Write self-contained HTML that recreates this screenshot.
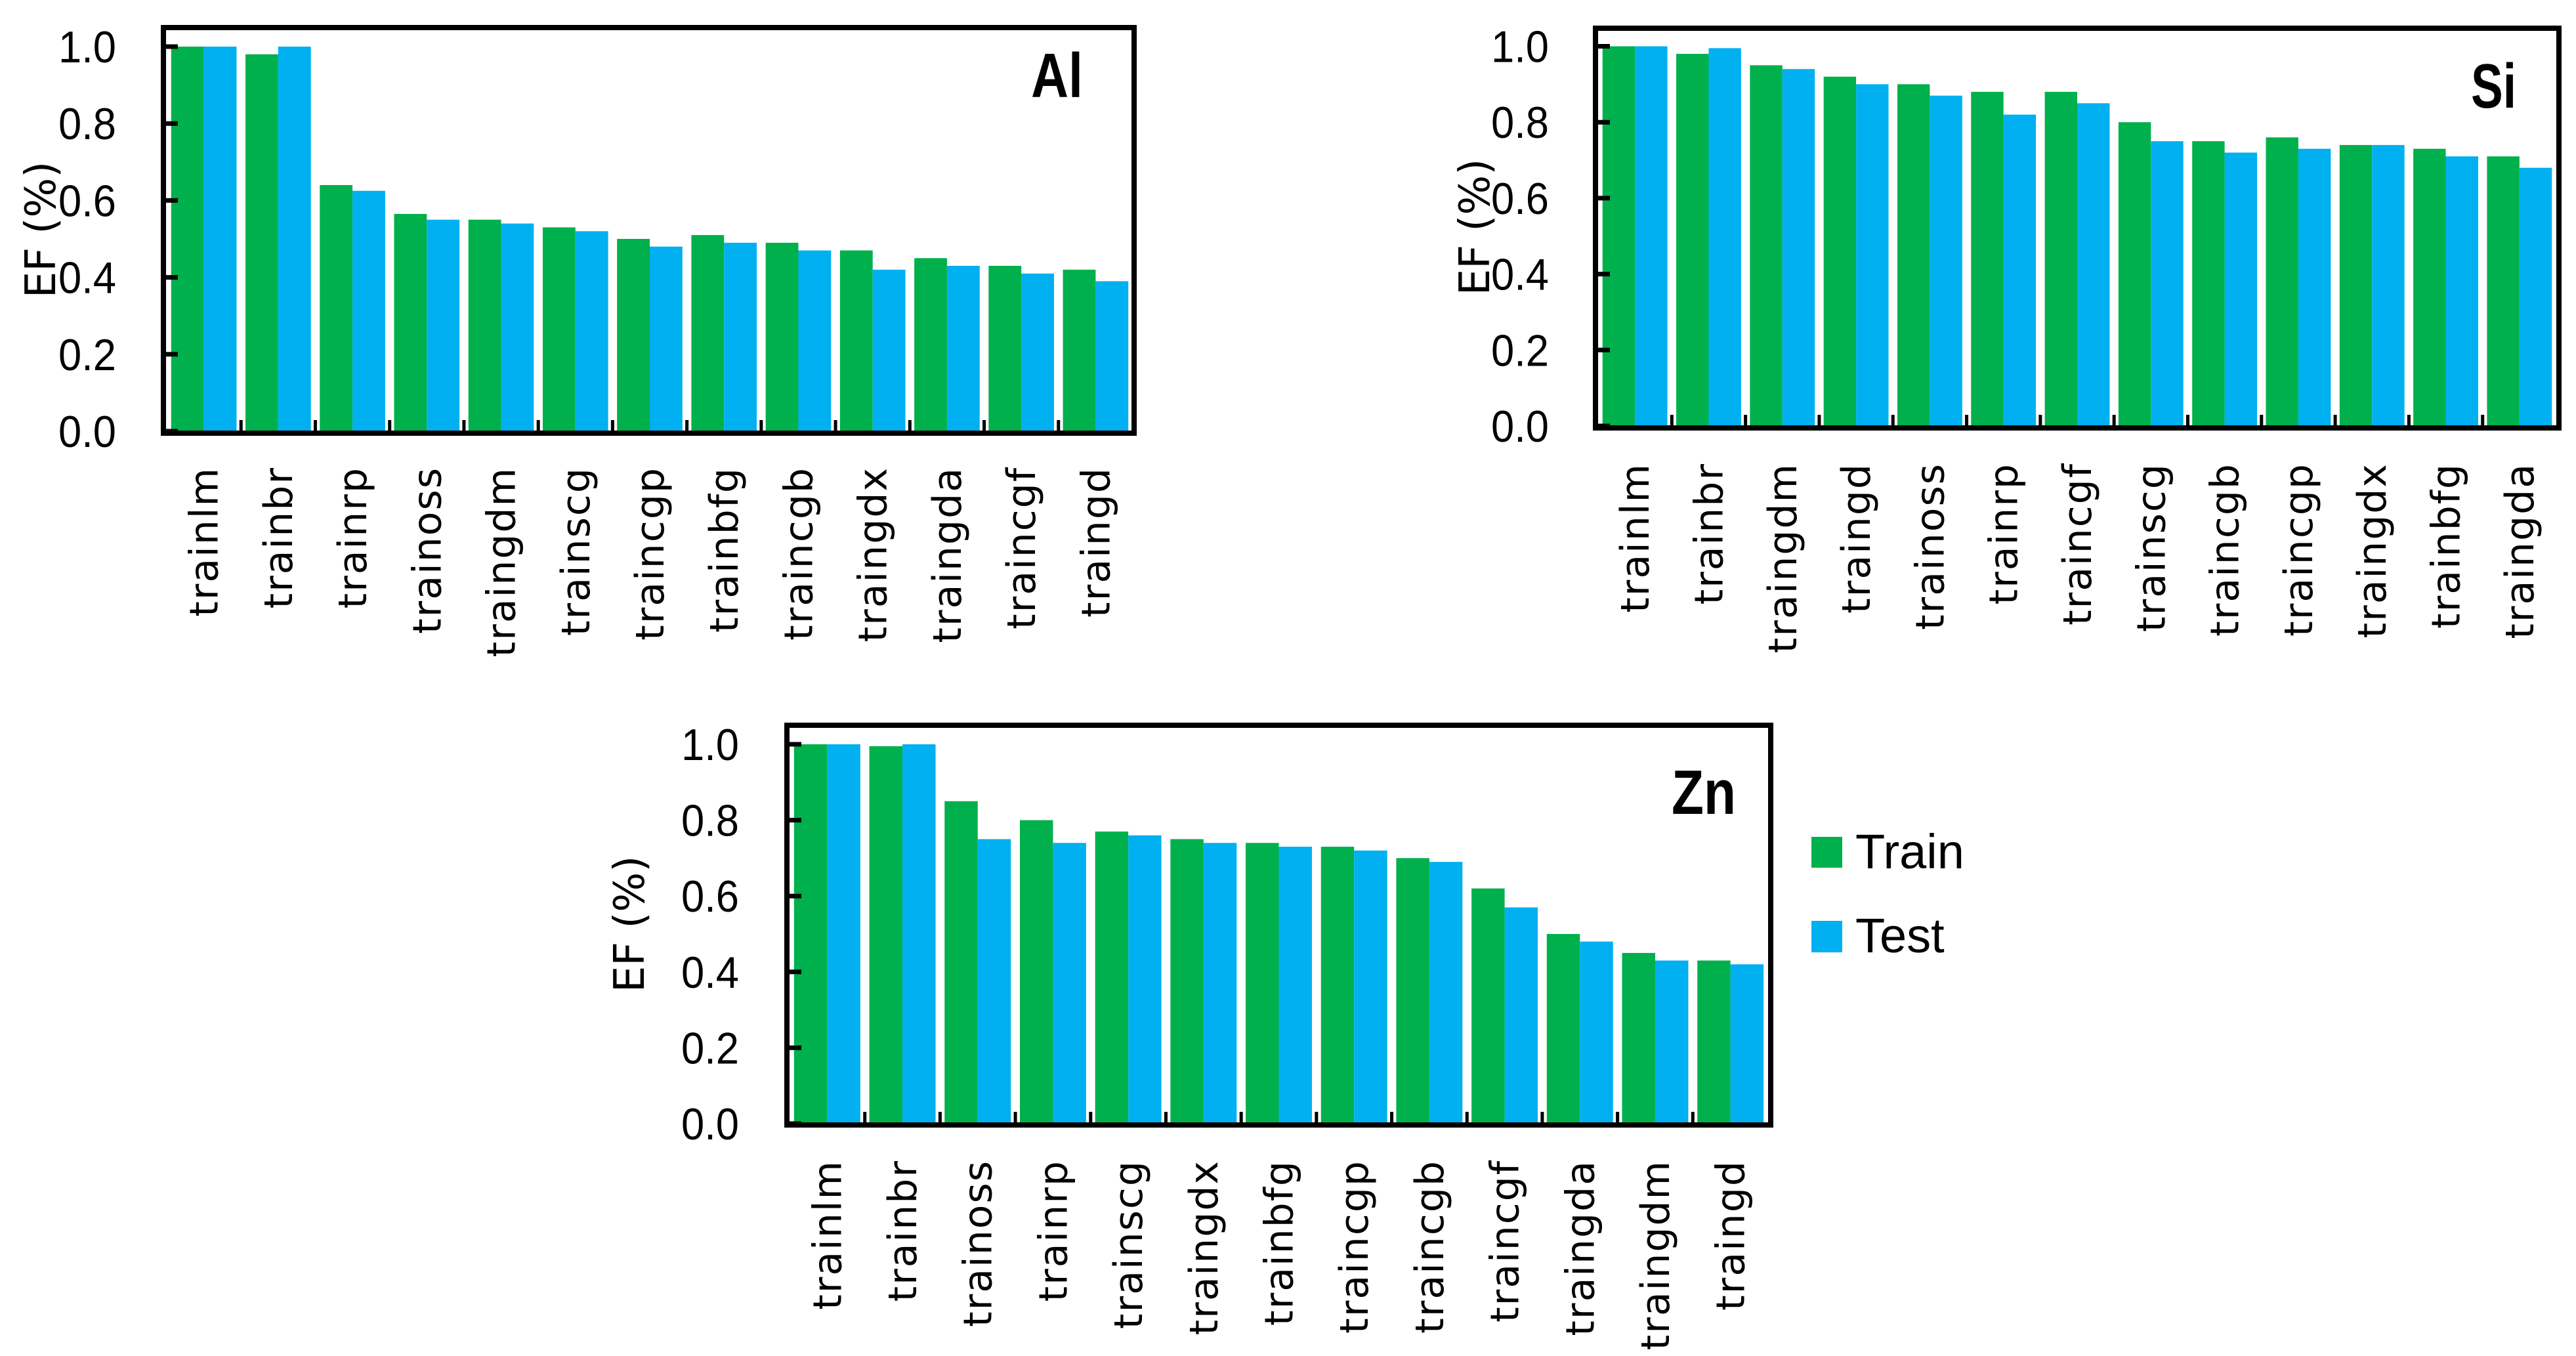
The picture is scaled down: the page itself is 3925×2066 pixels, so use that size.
<!DOCTYPE html>
<html><head><meta charset="utf-8"><style>
html,body{margin:0;padding:0;background:#fff;}
svg{display:block;}
</style></head><body>
<svg id="fig" width="3925" height="2066" viewBox="0 0 3925 2066" xmlns="http://www.w3.org/2000/svg">
<g>
<rect x="2760" y="1275" width="47" height="47" fill="#00B04C"/>
<text x="2827" y="1323" font-family="Liberation Sans, sans-serif" font-size="74">Train</text>
<rect x="2760" y="1403" width="47" height="48" fill="#00B0F0"/>
<text x="2827" y="1451" font-family="Liberation Sans, sans-serif" font-size="74">Test</text>
</g>
</svg>
<script>
const alCategories = ["trainlm","trainbr","trainrp","trainoss","traingdm","trainscg","traincgp","trainbfg","traincgb","traingdx","traingda","traincgf","traingd"];
const alTrain = [1.0,0.98,0.64,0.565,0.55,0.53,0.50,0.51,0.49,0.47,0.45,0.43,0.42];
const alTest = [1.0,1.0,0.625,0.55,0.54,0.52,0.48,0.49,0.47,0.42,0.43,0.41,0.39];
const siCategories = ["trainlm","trainbr","traingdm","traingd","trainoss","trainrp","traincgf","trainscg","traincgb","traincgp","traingdx","trainbfg","traingda"];
const siTrain = [1.0,0.98,0.95,0.92,0.90,0.88,0.88,0.80,0.75,0.76,0.74,0.73,0.71];
const siTest = [1.0,0.995,0.94,0.90,0.87,0.82,0.85,0.75,0.72,0.73,0.74,0.71,0.68];
const znCategories = ["trainlm","trainbr","trainoss","trainrp","trainscg","traingdx","trainbfg","traincgp","traincgb","traincgf","traingda","traingdm","traingd"];
const znTrain = [1.0,0.995,0.85,0.80,0.77,0.75,0.74,0.73,0.70,0.62,0.50,0.45,0.43];
const znTest = [1.0,1.0,0.75,0.74,0.76,0.74,0.73,0.72,0.69,0.57,0.48,0.43,0.42];
const yTicks = [0.0,0.2,0.4,0.6,0.8,1.0];
const yTickLabels = ["0.0","0.2","0.4","0.6","0.8","1.0"];

const NS = "http://www.w3.org/2000/svg";
const svg = document.getElementById('fig');
function mk(tag, attrs, parent){
  const e = document.createElementNS(NS, tag);
  for (const k in attrs) e.setAttribute(k, attrs[k]);
  parent.appendChild(e);
  return e;
}
function chart(cfg, cats, train, test){
  const g = mk('g', {}, svg);
  
  
  const y = v => cfg.y0 + (cfg.y1 - cfg.y0) * v;
  const n = cats.length;
  const gw = (cfg.xr - cfg.xl) / n;
  const bw = gw * 0.44;
  for (let i = 0; i < n; i++) {
    const gx = cfg.xl + i * gw + gw * 0.06;
    const b1 = mk('rect', {x: gx, y: y(train[i]), width: bw, height: y(0) - y(train[i]), fill: '#00B04C'}, g);
    
    
    const b2 = mk('rect', {x: gx + bw, y: y(test[i]), width: bw, height: y(0) - y(test[i]), fill: '#00B0F0'}, g);
    
    
    const cx = cfg.xl + (i + 0.5) * gw;
    const t = mk('text', {x: 0, y: 0, transform: `translate(${cx + 21},${cfg.labTop}) rotate(-90)`, 'text-anchor': 'end', 'font-family': 'DejaVu Sans, sans-serif', 'font-size': 60, 'letter-spacing': 2}, g);
    t.textContent = cats[i];
    
    
    if (i > 0) {
      const tk = mk('line', {x1: cfg.xl + i * gw, x2: cfg.xl + i * gw, y1: cfg.bottom, y2: cfg.bottom - 20, stroke: '#000', 'stroke-width': 5}, g);
      
      
    }
  }
  yTicks.forEach((v, j) => {
    const tk = mk('line', {x1: cfg.left, x2: cfg.left + 22, y1: y(v), y2: y(v), stroke: '#000', 'stroke-width': 7}, g);
    
    
    const tl = mk('text', {x: cfg.tickRight, y: y(v) + 24, 'text-anchor': 'end', 'font-family': 'Liberation Sans, sans-serif', 'font-size': 68, textLength: 88, lengthAdjust: 'spacingAndGlyphs'}, g);
    tl.textContent = yTickLabels[j];
    
    
  });
  const box = mk('rect', {x: cfg.left, y: cfg.top, width: cfg.right - cfg.left, height: cfg.bottom - cfg.top, fill: 'none', stroke: '#000', 'stroke-width': 8}, g);
  
  
  const yt = mk('text', {x: 0, y: 0, transform: `translate(${cfg.titleX},${cfg.titleY}) rotate(-90)`, 'text-anchor': 'middle', 'font-family': 'DejaVu Sans, sans-serif', 'font-size': 64}, g);
  yt.textContent = 'EF (%)';
  
  
  const lb = mk('text', {x: cfg.lx, y: cfg.ly, 'font-family': 'Liberation Sans, sans-serif', 'font-weight': 'bold', 'font-size': 96, textLength: cfg.lw, lengthAdjust: 'spacingAndGlyphs'}, g);
  lb.textContent = cfg.label;
  
  
}
chart({name:'al', left:249, right:1728, top:42, bottom:660, y0:657, y1:71, xl:254, xr:1726, tickRight:177, labTop:711, titleX:84, titleY:350, lx:1571, ly:148, lw:79, label:'Al'}, alCategories, alTrain, alTest);
chart({name:'si', left:2431, right:3899, top:43, bottom:652, y0:649, y1:70.5, xl:2435, xr:3895, tickRight:2360, labTop:705, titleX:2269, titleY:346, lx:3765, ly:164, lw:69, label:'Si'}, siCategories, siTrain, siTest);
chart({name:'zn', left:1199, right:2698, top:1105, bottom:1714, y0:1712, y1:1134, xl:1203, xr:2694, tickRight:1126, labTop:1767, titleX:981, titleY:1408, lx:2547, ly:1240, lw:98, label:'Zn'}, znCategories, znTrain, znTest);
</script>
</body></html>
